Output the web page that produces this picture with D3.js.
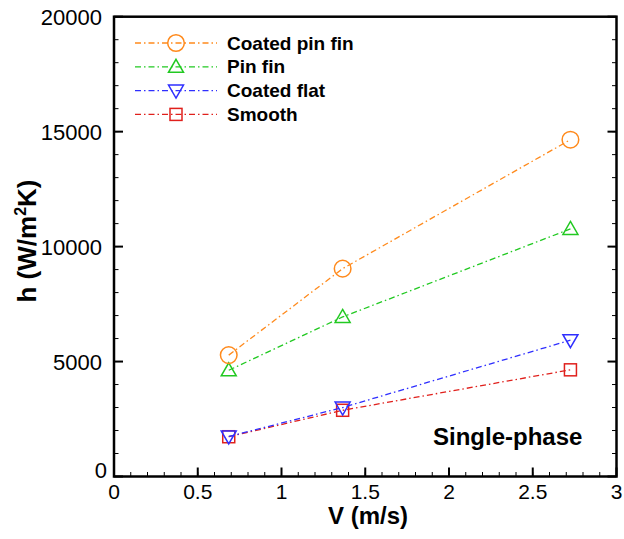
<!DOCTYPE html>
<html><head><meta charset="utf-8">
<script src="https://cdn.jsdelivr.net/npm/d3@7"></script>
<style>body{margin:0;background:#fff}svg{display:block}</style>
</head><body><svg id="c" width="624" height="539"></svg>
<script>
const velocity = [0.685, 1.365, 2.725];
const seriesNames = ["Coated pin fin", "Pin fin", "Coated flat", "Smooth"];
const coatedPinFin = [5280, 9040, 14650];
const pinFin = [4620, 6940, 10770];
const coatedFlat = [1740, 3000, 5930];
const smooth = [1730, 2880, 4640];
const xTicks = [0, 0.5, 1, 1.5, 2, 2.5, 3];
const yTicks = [0, 5000, 10000, 15000, 20000];

const colors = ["#ff8a1c", "#22c922", "#2f2fff", "#e0201c"];
const symbols = ["circle", "tri", "itri", "square"];
const allSeries = [coatedPinFin, pinFin, coatedFlat, smooth];

const svg = d3.select("#c");
const L = 114, R = 616.5, T = 16.7, B = 476.5;
const x = d3.scaleLinear().domain([0, 3]).range([L, R]);
const y = d3.scaleLinear().domain([0, 20000]).range([B, T]);
const font = "'Liberation Sans', Arial, sans-serif";

// minor ticks
const g = svg.append("g");
d3.range(0, 3.0001, 0.1).forEach(v => {
  g.append("line").attr("x1", x(v)).attr("x2", x(v)).attr("y1", B).attr("y2", B - 4.5)
    .attr("stroke", "#000").attr("stroke-width", 1);
});
d3.range(0, 20001, 1000).forEach(v => {
  [[L, L + 4.5], [R, R - 4.5]].forEach(([a, b]) =>
    g.append("line").attr("x1", a).attr("x2", b).attr("y1", y(v)).attr("y2", y(v))
      .attr("stroke", "#000").attr("stroke-width", 1));
});
// major ticks
xTicks.forEach(v => {
  g.append("line").attr("x1", x(v)).attr("x2", x(v)).attr("y1", B).attr("y2", B - 9)
    .attr("stroke", "#000").attr("stroke-width", 2);
});
yTicks.forEach(v => {
  [[L, L + 9], [R, R - 9]].forEach(([a, b]) =>
    g.append("line").attr("x1", a).attr("x2", b).attr("y1", y(v)).attr("y2", y(v))
      .attr("stroke", "#000").attr("stroke-width", 2));
});
svg.append("rect").attr("x", L).attr("y", T).attr("width", R - L).attr("height", B - T)
  .attr("fill", "none").attr("stroke", "#000").attr("stroke-width", 2.5);

// tick labels
xTicks.forEach(v => {
  svg.append("text").attr("x", x(v)).attr("y", B + 22.5).attr("text-anchor", "middle")
    .attr("font-family", font).attr("font-size", 21).text(d3.format("")(v));
});
yTicks.forEach(v => {
  svg.append("text").attr("x", v === 0 ? L - 7 : L - 12).attr("y", y(v) + (v === 0 ? 1.5 : 8))
    .attr("text-anchor", "end")
    .attr("font-family", font).attr("font-size", 22).text(v);
});

// axis titles
svg.append("text").attr("x", 368).attr("y", 524).attr("text-anchor", "middle")
  .attr("font-family", font).attr("font-size", 24).attr("font-weight", "bold").text("V (m/s)");
const yt = svg.append("text").attr("transform", "translate(36,241) rotate(-90)")
  .attr("text-anchor", "middle").attr("font-family", font).attr("font-size", 26).attr("font-weight", "bold");
yt.append("tspan").text("h (W/m");
yt.append("tspan").attr("font-size", 16).attr("dy", -10).text("2");
yt.append("tspan").attr("dy", 10).text("K)");

svg.append("text").attr("x", 433).attr("y", 445).attr("font-family", font)
  .attr("font-size", 24).attr("font-weight", "bold").text("Single-phase");

function marker(sel, type, cx, cy, color) {
  if (type === "circle") {
    sel.append("circle").attr("cx", cx).attr("cy", cy).attr("r", 8.3)
      .attr("fill", "none").attr("stroke", color).attr("stroke-width", 1.5);
  } else if (type === "square") {
    sel.append("rect").attr("x", cx - 6).attr("y", cy - 6).attr("width", 12).attr("height", 12)
      .attr("fill", "none").attr("stroke", color).attr("stroke-width", 1.5);
  } else if (type === "tri") {
    sel.append("path").attr("d", `M${cx},${cy - 7.5}L${cx + 7.5},${cy + 5.5}L${cx - 7.5},${cy + 5.5}Z`)
      .attr("fill", "none").attr("stroke", color).attr("stroke-width", 1.5);
  } else {
    sel.append("path").attr("d", `M${cx},${cy + 7.5}L${cx + 7.5},${cy - 5.5}L${cx - 7.5},${cy - 5.5}Z`)
      .attr("fill", "none").attr("stroke", color).attr("stroke-width", 1.5);
  }
}

const line = d3.line().x((d, i) => x(velocity[i])).y(d => y(d));
const dash = "6,3,1.5,3";
[3, 2, 1, 0].forEach(k => {
  const s = allSeries[k];
  svg.append("path").attr("d", line(s)).attr("fill", "none").attr("stroke", colors[k])
    .attr("stroke-width", 1.3).attr("stroke-dasharray", dash);
  const mg = svg.append("g");
  s.forEach((v, i) => marker(mg, symbols[k], x(velocity[i]), y(v), colors[k]));
});

// legend
seriesNames.forEach((name, k) => {
  const ly = 43 + k * 23.8;
  svg.append("line").attr("x1", 135).attr("x2", 217).attr("y1", ly).attr("y2", ly)
    .attr("stroke", colors[k]).attr("stroke-width", 1.3).attr("stroke-dasharray", dash);
  marker(svg, symbols[k], 176, ly, colors[k]);
  svg.append("text").attr("x", 227).attr("y", ly + 6.6).attr("font-family", font)
    .attr("font-size", 19).attr("font-weight", "bold").text(name);
});
</script></body></html>
